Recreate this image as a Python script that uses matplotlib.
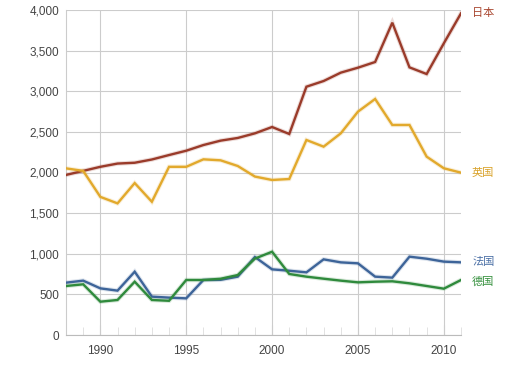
import matplotlib
matplotlib.use("Agg")
import matplotlib.pyplot as plt
import matplotlib.patheffects as pe
from matplotlib.ticker import FuncFormatter, MultipleLocator

years = list(range(1988, 2012))
japan = [1970, 2020, 2070, 2110, 2120, 2160, 2215, 2268, 2338, 2392, 2425, 2482,
         2560, 2474, 3056, 3126, 3229, 3290, 3360, 3844, 3294, 3212, 3590, 3959]
uk = [2051, 2020, 1700, 1620, 1870, 1640, 2070, 2070, 2162, 2150, 2080, 1950,
      1908, 1920, 2400, 2318, 2482, 2749, 2905, 2585, 2585, 2195, 2052, 1998]
france = [644, 669, 574, 546, 779, 472, 460, 451, 677, 679, 718, 960,
          808, 791, 771, 931, 894, 882, 718, 706, 964, 939, 903, 894]
germany = [603, 624, 410, 431, 656, 431, 421, 677, 677, 692, 738, 940,
           1025, 751, 718, 693, 669, 648, 656, 661, 636, 603, 570, 677]

series = [
    ("日本", japan, "#9a3b2a", "#b0442c"),
    ("英国", uk, "#e2a92c", "#d9a22a"),
    ("法国", france, "#3d6499", "#4a6fa5"),
    ("德国", germany, "#2f8a3c", "#37913f"),
]
label_offsets = {"日本": 0, "英国": 0, "法国": 0, "德国": -20}

plt.rcParams['font.family'] = ['Liberation Sans', 'Noto Sans CJK SC', 'DejaVu Sans']

fig = plt.figure(figsize=(5.13, 3.65), dpi=100)
ax = fig.add_axes([66/513, 1-335/365, (461-66)/513, 325/365])

for name, vals, col, lcol in series:
    ax.plot(years, vals, color=col, lw=1.7, solid_joinstyle='miter', zorder=3,
            path_effects=[pe.Stroke(linewidth=3.2, foreground=col, alpha=0.18), pe.Normal()])

# labels at right
ax.text(1.028, 3959, "日本", transform=ax.get_yaxis_transform(), color="#a8452e",
        fontsize=8, va='center', ha='left', family=['Noto Sans CJK SC'])
ax.text(1.028, 1998, "英国", transform=ax.get_yaxis_transform(), color="#d9a22a",
        fontsize=8, va='center', ha='left', family=['Noto Sans CJK SC'])
ax.text(1.028, 894, "法国", transform=ax.get_yaxis_transform(), color="#4a6fa5",
        fontsize=8, va='center', ha='left', family=['Noto Sans CJK SC'])
ax.text(1.028, 660, "德国", transform=ax.get_yaxis_transform(), color="#37913f",
        fontsize=8, va='center', ha='left', family=['Noto Sans CJK SC'])

ax.set_xlim(1988, 2011)
ax.set_ylim(0, 4000)
ax.yaxis.set_major_locator(MultipleLocator(500))
ax.yaxis.set_major_formatter(FuncFormatter(lambda v, p: f"{int(v):,}"))
ax.set_xticks([1990, 1995, 2000, 2005, 2010])
ax.set_xticks(years, minor=True)

ax.grid(True, which='major', color='#cccccc', lw=0.8, zorder=0)
for s in ['top', 'right']:
    ax.spines[s].set_visible(False)
ax.spines['left'].set_color('#cccccc')
ax.spines['bottom'].set_color('#bbbbbb')
ax.tick_params(axis='y', length=0, pad=5, labelsize=8.5, labelcolor='#444444')
ax.tick_params(axis='x', which='major', direction='in', length=7, color='#cccccc',
               pad=7, labelsize=8.5, labelcolor='#444444')
ax.tick_params(axis='x', which='minor', direction='in', length=6, color='#dddddd')

fig.savefig("out.png", dpi=100)
